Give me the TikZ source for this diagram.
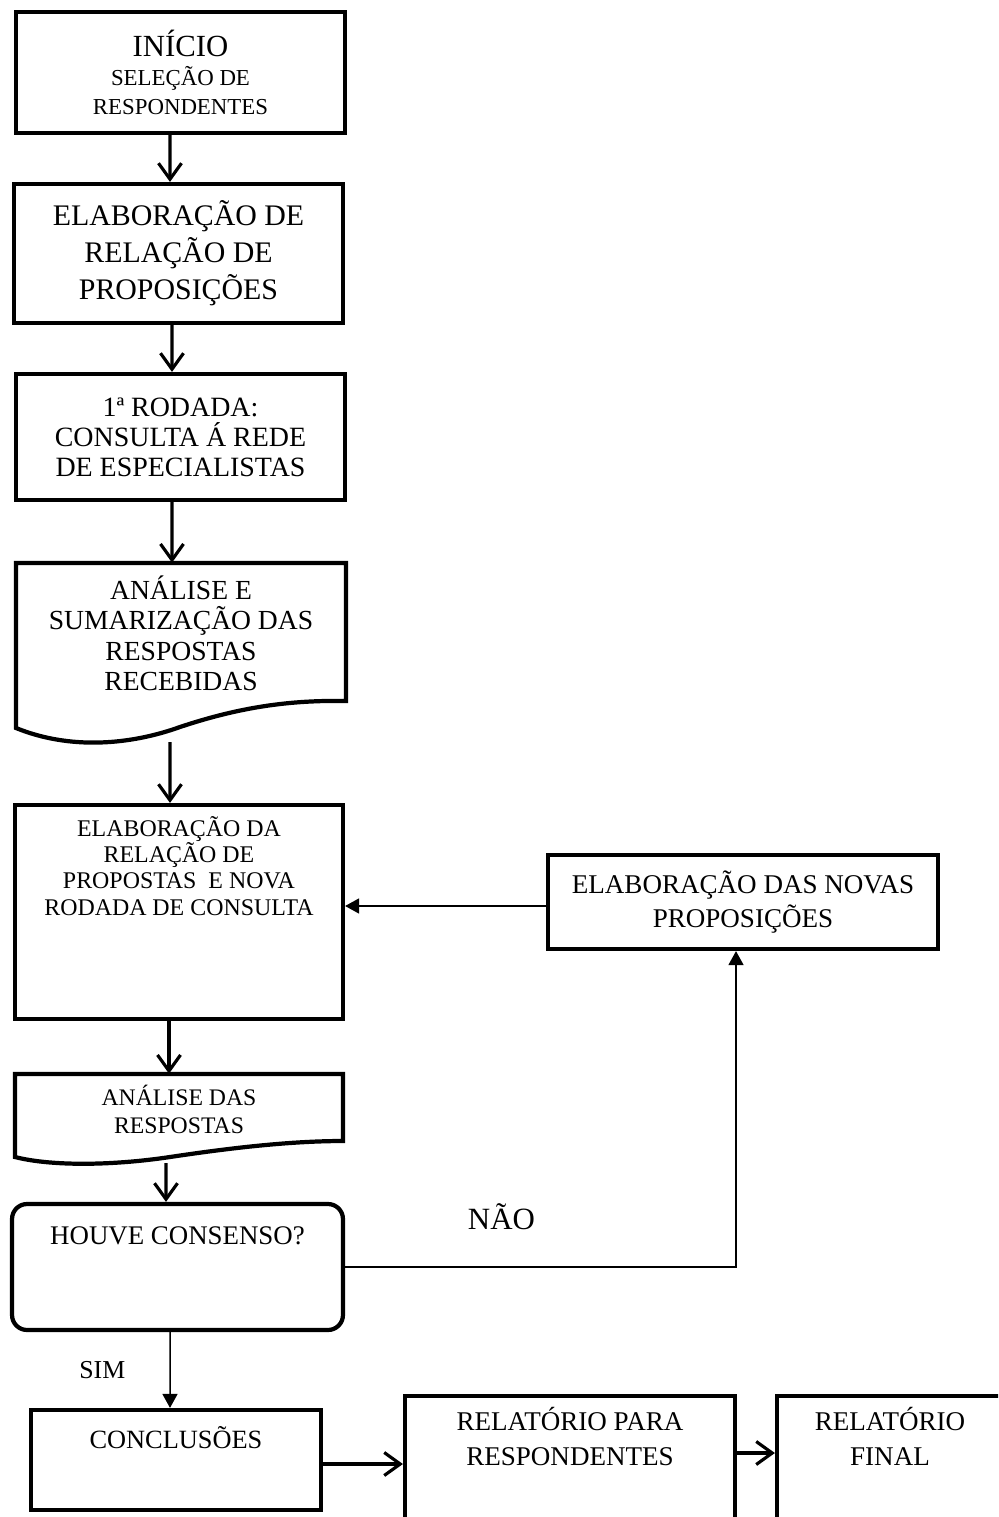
\documentclass[tikz,border=0pt]{standalone}
\usepackage{fontspec}
\setmainfont{Liberation Serif}
\usetikzlibrary{arrows.meta, positioning}

\begin{document}
\begin{tikzpicture}[
        x=0.02cm, y=-0.02cm,
        caixa/.style={rectangle, draw, line width=2.4pt, inner sep=0pt, align=center},
        area/.style={rectangle, inner sep=0pt},
        borda/.style={line width=2.4pt},
        texto/.style={inner sep=0pt, align=center},
        seta/.style={draw, line width=1.8pt, -{Straight Barb[length=0.32cm, width=0.46cm]}},
        fino/.style={draw, line width=0.85pt, -{Triangle[length=0.28cm, width=0.3cm]}},
        rotulo/.style={inner sep=0pt, font=\fontsize{14.7}{17}\selectfont}
    ]
        \useasboundingbox (0,0) rectangle (998,1517);
        \clip (0,0) rectangle (998,1517);

        % coluna principal
        \node [caixa, minimum width=6.58cm, minimum height=2.42cm, font=\fontsize{13}{16.4}\selectfont] (inicio) at (180.5,72.5)
            {{\fontsize{17.5}{20}\selectfont INÍCIO}\\SELEÇÃO DE\\RESPONDENTES};
        \node [caixa, minimum width=6.58cm, minimum height=2.78cm, font=\fontsize{17}{21}\selectfont] (elab) at (178.5,253.5)
            {ELABORAÇÃO DE\\RELAÇÃO DE\\PROPOSIÇÕES};
        \node [caixa, minimum width=6.58cm, minimum height=2.52cm, font=\fontsize{15.9}{17}\selectfont] (rodada) at (180.5,437)
            {1ª RODADA:\\CONSULTA Á REDE\\DE ESPECIALISTAS};

        \node [area, minimum width=6.6cm, minimum height=3.3cm] (sumario) at (181,645.5) {};
        \draw [borda] (16,728) -- (16,563) -- (346,563) -- (346,701)
            .. controls (290,700) and (240,707) .. (180,727)
            .. controls (130,745) and (70,750) .. (16,728) -- cycle;
        \node [texto, below=0.25cm of sumario.north, font=\fontsize{15.7}{17.4}\selectfont] (sumariotxt)
            {ANÁLISE E\\SUMARIZAÇÃO DAS\\RESPOSTAS\\RECEBIDAS};
        \coordinate (onda1) at (170,742);

        \node [caixa, minimum width=6.56cm, minimum height=4.28cm] (elabprop) at (179,912) {};
        \node [texto, below=0.26cm of elabprop.north, font=\fontsize{13.6}{15}\selectfont] (elabproptxt)
            {ELABORAÇÃO DA\\RELAÇÃO DE\\PROPOSTAS~ E NOVA\\RODADA DE CONSULTA};

        \node [area, minimum width=6.56cm, minimum height=1.34cm] (analresp) at (179,1107.5) {};
        \draw [borda] (15,1157) -- (15,1074) -- (343,1074) -- (343,1141)
            .. controls (290,1141) and (230,1148) .. (170,1157)
            .. controls (110,1166) and (50,1166) .. (15,1157) -- cycle;
        \node [texto, below=0.22cm of analresp.north, font=\fontsize{13.5}{15.9}\selectfont] (analresptxt)
            {ANÁLISE DAS\\RESPOSTAS};
        \coordinate (onda2) at (166,1163);

        \node [caixa, rounded corners=0.3cm, minimum width=6.62cm, minimum height=2.52cm] (consenso) at (177.5,1267) {};
        \node [texto, below=0.48cm of consenso.north, font=\fontsize{15.3}{17}\selectfont] (consensotxt) {HOUVE CONSENSO?};

        % linha de baixo
        \node [caixa, minimum width=5.79cm, minimum height=2cm] (conclusoes) at (176,1460) {};
        \node [texto, below=0.36cm of conclusoes.north, font=\fontsize{15}{17}\selectfont] (conclusoestxt) {CONCLUSÕES};
        \node [caixa, minimum width=6.6cm, minimum height=3.28cm] (relresp) at (570,1478) {};
        \node [texto, below=0.26cm of relresp.north, font=\fontsize{15.4}{20}\selectfont] (relresptxt)
            {RELATÓRIO PARA\\RESPONDENTES};
        \node [caixa, minimum width=4.52cm, minimum height=3.28cm] (relfinal) at (890,1478) {};
        \node [texto, below=0.26cm of relfinal.north, font=\fontsize{15.4}{20}\selectfont] (relfinaltxt)
            {RELATÓRIO\\FINAL};

        % retorno
        \node [caixa, minimum width=7.8cm, minimum height=1.88cm, font=\fontsize{15.4}{19.2}\selectfont] (novas) at (743,902)
            {ELABORAÇÃO DAS NOVAS\\PROPOSIÇÕES};

        \path [seta] ([xshift=-0.21cm]inicio.south) -- ([xshift=-0.17cm]elab.north);
        \path [seta] ([xshift=-0.13cm]elab.south) -- ([xshift=-0.17cm]rodada.north);
        \path [seta] ([xshift=-0.17cm]rodada.south) -- ([xshift=-0.18cm]sumario.north);
        \path [seta] (onda1) -- ([xshift=-0.18cm]elabprop.north);
        \path [seta] ([xshift=-0.2cm]elabprop.south) -- ([xshift=-0.2cm]analresp.north);
        \path [seta] (onda2) -- ([xshift=-0.23cm]consenso.north);
        \path [fino] ([xshift=-0.15cm]consenso.south) -- node[midway, left=0.88cm, rotulo] {SIM} ([xshift=-0.12cm]conclusoes.north);
        \path [seta] ([yshift=-0.08cm]conclusoes.east) -- ([yshift=-0.08cm]conclusoes.east -| relresp.west);
        \path [seta] ([yshift=0.5cm]relresp.east) -- ([yshift=0.5cm]relresp.east -| relfinal.west);
        \path [fino] ([yshift=-0.08cm]novas.west) -- ([yshift=-0.08cm]novas.west -| elabprop.east);
        \path [fino] (consenso.east) -| node[pos=0.2, above=0.72cm, rotulo, font=\fontsize{17.6}{20}\selectfont] {NÃO} ([xshift=-0.14cm]novas.south);
    \end{tikzpicture}
\end{document}
